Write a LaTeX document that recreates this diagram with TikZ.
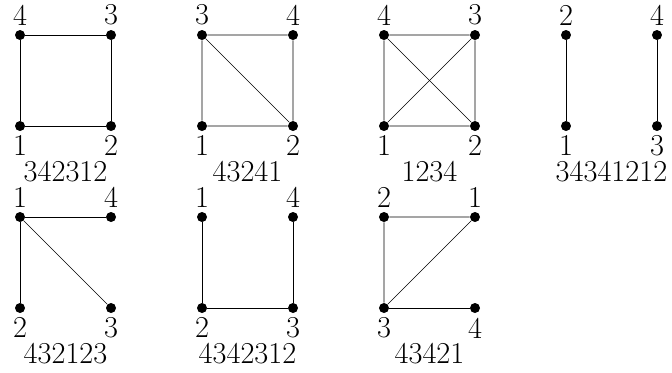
\documentclass[tikz,border=0pt]{standalone}
\begin{document}
\begin{tikzpicture}[
    % Réglages des sommets et des étiquettes
    sommet/.style={circle, fill, inner sep=0pt, minimum size=0.22cm},
    every label/.style={inner sep=0pt, font=\fontsize{19}{23}\selectfont},
    label distance=0.09cm,
    legende/.style={anchor=base, inner sep=0pt, font=\fontsize{19}{23}\selectfont}
]
\useasboundingbox (-0.44,-5.41) rectangle (14.33,2.77);
% Graphe 1
\node[sommet, label=above:4] (a4) at (0,2) {};
\node[sommet, label=above:3] (a3) at (2,2) {};
\node[sommet, label=below:1] (a1) at (0,0) {};
\node[sommet, label=below:2] (a2) at (2,0) {};
\draw (a4) -- (a3) -- (a2) -- (a1) -- (a4);
\node[legende] (la) at (1,-1.23) {342312};
% Graphe 2
\node[sommet, label=above:3] (b3) at (4,2) {};
\node[sommet, label=above:4] (b4) at (6,2) {};
\node[sommet, label=below:1] (b1) at (4,0) {};
\node[sommet, label=below:2] (b2) at (6,0) {};
\draw (b3) -- (b4) -- (b2) -- (b1) -- (b3) -- (b2);
\node[legende] (lb) at (5,-1.23) {43241};
% Graphe 3
\node[sommet, label=above:4] (c4) at (8,2) {};
\node[sommet, label=above:3] (c3) at (10,2) {};
\node[sommet, label=below:1] (c1) at (8,0) {};
\node[sommet, label=below:2] (c2) at (10,0) {};
\draw (c4) -- (c3) -- (c2) -- (c1) -- (c4) -- (c2);
\draw (c1) -- (c3);
\node[legende] (lc) at (9,-1.23) {1234};
% Graphe 4
\node[sommet, label=above:2] (d2) at (12,2) {};
\node[sommet, label=above:4] (d4) at (14,2) {};
\node[sommet, label=below:1] (d1) at (12,0) {};
\node[sommet, label=below:3] (d3) at (14,0) {};
\draw (d2) -- (d1);
\draw (d4) -- (d3);
\node[legende] (ld) at (13,-1.23) {34341212};
% Graphe 5
\node[sommet, label=above:1] (e1) at (0,-2) {};
\node[sommet, label=above:4] (e4) at (2,-2) {};
\node[sommet, label=below:2] (e2) at (0,-4) {};
\node[sommet, label=below:3] (e3) at (2,-4) {};
\draw (e4) -- (e1) -- (e2);
\draw (e1) -- (e3);
\node[legende] (le) at (1,-5.23) {432123};
% Graphe 6
\node[sommet, label=above:1] (f1) at (4,-2) {};
\node[sommet, label=above:4] (f4) at (6,-2) {};
\node[sommet, label=below:2] (f2) at (4,-4) {};
\node[sommet, label=below:3] (f3) at (6,-4) {};
\draw (f1) -- (f2) -- (f3) -- (f4);
\node[legende] (lf) at (5,-5.23) {4342312};
% Graphe 7
\node[sommet, label=above:2] (g2) at (8,-2) {};
\node[sommet, label=above:1] (g1) at (10,-2) {};
\node[sommet, label=below:3] (g3) at (8,-4) {};
\node[sommet, label=below:4] (g4) at (10,-4) {};
\draw (g1) -- (g2) -- (g3) -- (g1);
\draw (g3) -- (g4);
\node[legende] (lg) at (9,-5.23) {43421};
\end{tikzpicture}
\end{document}
